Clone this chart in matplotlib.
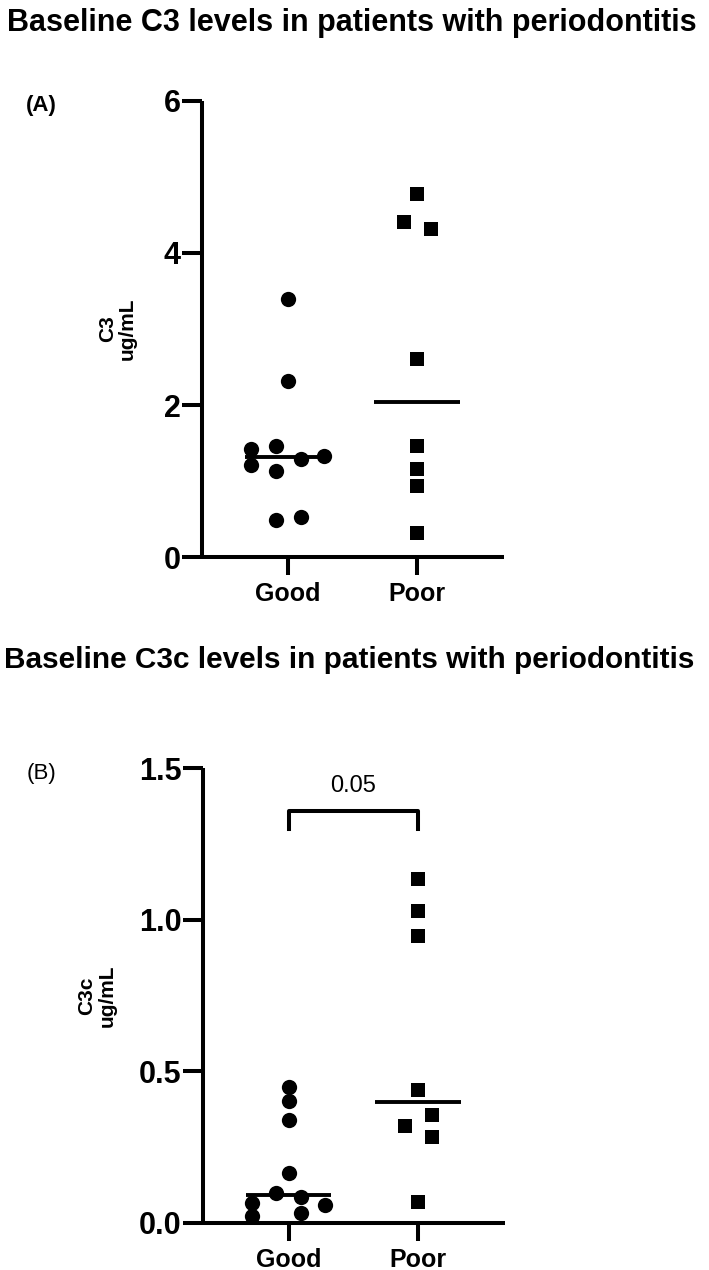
import numpy as np
import matplotlib
matplotlib.use('Agg')
import matplotlib.pyplot as plt

plt.rcParams['font.family'] = ['Liberation Sans', 'DejaVu Sans']

groups = ['Good', 'Poor']

# panel A: C3 (ug/mL)
c3_good = [3.40, 2.31, 1.42, 1.46, 1.21, 1.13, 1.29, 1.33, 0.49, 0.52]
c3_poor = [4.78, 4.41, 4.31, 2.61, 1.46, 1.16, 0.93, 0.32]
# horizontal scatter of the points (category units)
c3_good_dx = [0, 0, -0.28, -0.09, -0.28, -0.09, 0.10, 0.28, -0.09, 0.10]
c3_poor_dx = [0, -0.10, 0.105, 0, 0, 0, 0, 0]

# panel B: C3c (ug/mL)
c3c_good = [0.447, 0.400, 0.337, 0.162, 0.098, 0.083, 0.065, 0.057, 0.021, 0.032]
c3c_poor = [1.136, 1.029, 0.946, 0.438, 0.355, 0.319, 0.281, 0.068]
c3c_good_dx = [0, 0, 0, 0, -0.098, 0.098, -0.283, 0.28, -0.283, 0.098]
c3c_poor_dx = [0, 0, 0, 0, 0.108, -0.103, 0.108, 0]
p_value = '0.05'

fig = plt.figure(figsize=(7.09, 12.70), dpi=100)


def panel(rect, good, poor, gdx, pdx, ymax, yticks, yticklabels, ylabel, label_x):
    ax = fig.add_axes(rect)
    ax.plot(np.array(gdx), good, 'o', color='black', ms=11, mew=0, clip_on=False, zorder=3)
    ax.plot(1 + np.array(pdx), poor, 's', color='black', ms=10, mew=0, clip_on=False, zorder=3)
    for i, vals in enumerate([good, poor]):
        m = np.median(vals)
        ax.plot([i - 0.33, i + 0.33], [m, m], color='black', lw=2.8, solid_capstyle='butt', zorder=2)
    ax.set_xlim(-0.66, 1.67)
    ax.set_ylim(0, ymax)
    ax.set_xticks([0, 1])
    ax.set_xticklabels(groups, fontsize=18, fontweight='bold')
    ax.set_yticks(yticks)
    ax.set_yticklabels(yticklabels, fontsize=22, fontweight='bold')
    for s in ['top', 'right']:
        ax.spines[s].set_visible(False)
    for s in ['left', 'bottom']:
        ax.spines[s].set_linewidth(2.9)
        ax.spines[s].set_capstyle('butt')
    ax.tick_params(axis='y', length=14.4, width=2.9, pad=1)
    ax.tick_params(axis='x', length=13, width=2.9, pad=5)
    ax.text(label_x, 0.5, ylabel, transform=ax.transAxes, rotation=90,
            ha='center', va='center', ma='center', fontsize=15, fontweight='bold',
            linespacing=1.1)
    return ax


axA = panel([0.2849, 0.5614, 0.426, 0.3591], c3_good, c3_poor, c3_good_dx, c3_poor_dx,
            6, [0, 2, 4, 6], ['0', '2', '4', '6'], 'C3\nug/mL', -0.28)
axB = panel([0.2863, 0.0374, 0.426, 0.3576], c3c_good, c3c_poor, c3c_good_dx, c3c_poor_dx,
            1.5, [0, 0.5, 1.0, 1.5], ['0.0', '0.5', '1.0', '1.5'], 'C3c\nug/mL', -0.35)

# significance bracket
axB.plot([0, 0, 1, 1], [1.299, 1.36, 1.36, 1.299], color='black', lw=2.9, clip_on=False)
axB.text(0.5, 1.443, p_value, ha='center', va='center', fontsize=17)

fig.text(0.01, 1 - 23 / 1270, 'Baseline C3 levels in patients with periodontitis',
         ha='left', va='center', fontsize=22, fontweight='bold')
fig.text(0.006, 1 - 660 / 1270, 'Baseline C3c levels in patients with periodontitis',
         ha='left', va='center', fontsize=21.4, fontweight='bold')
fig.text(26 / 709, 1 - 105 / 1270, '(A)', ha='left', va='center', fontsize=16,
         fontweight='bold')
fig.text(27 / 709, 1 - 773 / 1270, '(B)', ha='left', va='center', fontsize=16)

fig.savefig('out.png', dpi=100)
